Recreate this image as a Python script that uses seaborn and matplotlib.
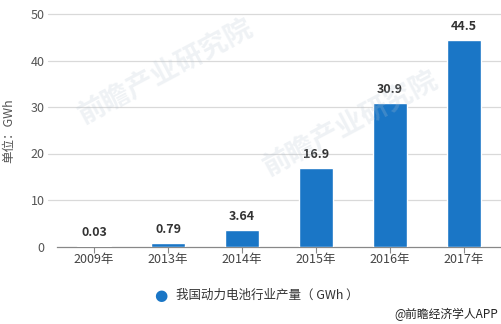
import matplotlib
matplotlib.use("Agg")
import matplotlib.pyplot as plt
import seaborn as sns
import pandas as pd

years = ["2009年", "2013年", "2014年", "2015年", "2016年", "2017年"]
output_gwh = [0.03, 0.79, 3.64, 16.9, 30.9, 44.5]
value_labels = ["0.03", "0.79", "3.64", "16.9", "30.9", "44.5"]
y_ticks = [0, 10, 20, 30, 40, 50]
series_name = "我国动力电池行业产量（ GWh ）"

sns.set_theme(style="white")
plt.rcParams["font.family"] = ["Noto Sans CJK SC", "DejaVu Sans"]

bar_color = "#1a76c6"
df = pd.DataFrame({"year": years, "value": output_gwh})

fig = plt.figure(figsize=(5.01, 3.24), dpi=100)
ax = fig.add_axes([57 / 501, 1 - 246.5 / 324, 444 / 501, (246.5 - 14) / 324])

sns.barplot(data=df, x="year", y="value", color=bar_color, width=0.47,
            saturation=1, ax=ax, zorder=3)

ax.set_ylim(0, 50)
ax.set_xlim(-0.5, 5.5)
ax.set_yticks(y_ticks)
ax.set_yticklabels([str(t) for t in y_ticks], color="#555555", fontsize=9)
ax.tick_params(axis="y", length=0, pad=9)
ax.tick_params(axis="x", length=4, width=0.8, color="#888888", labelsize=9,
               labelcolor="#444444", pad=1, bottom=True)
ax.set_xlabel("")
ax.set_ylabel("单位：GWh", color="#555555", fontsize=9)
ax.yaxis.set_label_coords(-0.095, 0.5)

for s in ["top", "right", "left"]:
    ax.spines[s].set_visible(False)
ax.spines["bottom"].set_color("#888888")
ax.spines["bottom"].set_linewidth(0.9)

# horizontal grid lines running slightly past the left edge of the plot area
for t in y_ticks[1:]:
    ax.plot([-0.62, 5.5], [t, t], color="#d9d9d9", lw=0.9, zorder=1,
            clip_on=False)

for i, (v, lab) in enumerate(zip(output_gwh, value_labels)):
    ax.annotate(lab, (i, v), xytext=(0, 5), textcoords="offset points",
                ha="center", va="bottom", fontsize=9, fontweight="bold",
                color="#333333")

# legend
fig.text(161 / 501, 1 - 295 / 324, "●", color=bar_color, fontsize=11,
         ha="center", va="center", family="DejaVu Sans")
fig.text(176 / 501, 1 - 295 / 324, series_name, color="#333333", fontsize=9,
         ha="left", va="center")

# source credit
fig.text(498 / 501, 1 - 314 / 324, "@前瞻经济学人APP", color="#222222",
         fontsize=8.5, ha="right", va="center")

# faint watermarks
for (wx, wy) in [(0.33, 0.78), (0.70, 0.62)]:
    fig.text(wx, wy, "前瞻产业研究院", color="#b8c6d2", fontsize=20,
             rotation=28, ha="center", va="center", alpha=0.22,
             fontweight="bold")

fig.savefig("out.png", dpi=100)
